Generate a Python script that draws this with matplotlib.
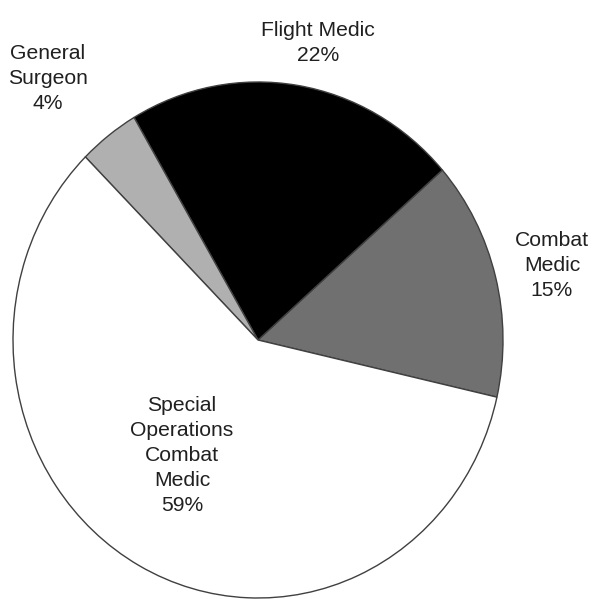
import matplotlib
matplotlib.use("Agg")
import matplotlib.pyplot as plt

# Specialty share, counterclockwise from the right edge
labels = ["Combat\nMedic", "Flight Medic", "General\nSurgeon", "Special\nOperations\nCombat\nMedic"]
shares = [15, 22, 4, 59]
colors = ["#707070", "#000000", "#b0b0b0", "#ffffff"]

# where each label sits, in data units (pie radius = 1)
label_pos = [(1.20, 0.29), (0.245, 1.15), (-0.857, 1.015), (-0.31, -0.446)]

plt.rcParams['font.family'] = ['Liberation Sans', 'DejaVu Sans']

fig = plt.figure(figsize=(6.0, 5.99), dpi=100)
# the original pie is a bit taller than wide, so the axes is not square
ax = fig.add_axes([13 / 600, 1 / 599, 490 / 600, 516 / 599])

ax.pie(shares, colors=colors, startangle=-12.8, counterclock=True,
       wedgeprops=dict(edgecolor="#404040", linewidth=1.0))
ax.set_aspect('auto')
ax.set_xlim(-1, 1)
ax.set_ylim(-1, 1)
ax.axis('off')

for lab, val, (x, y) in zip(labels, shares, label_pos):
    ax.text(x, y, f"{lab}\n{val}%", ha='center', va='center', fontsize=15.2,
            color="#202020", clip_on=False, linespacing=1.4)

fig.savefig("out.png", dpi=100)
